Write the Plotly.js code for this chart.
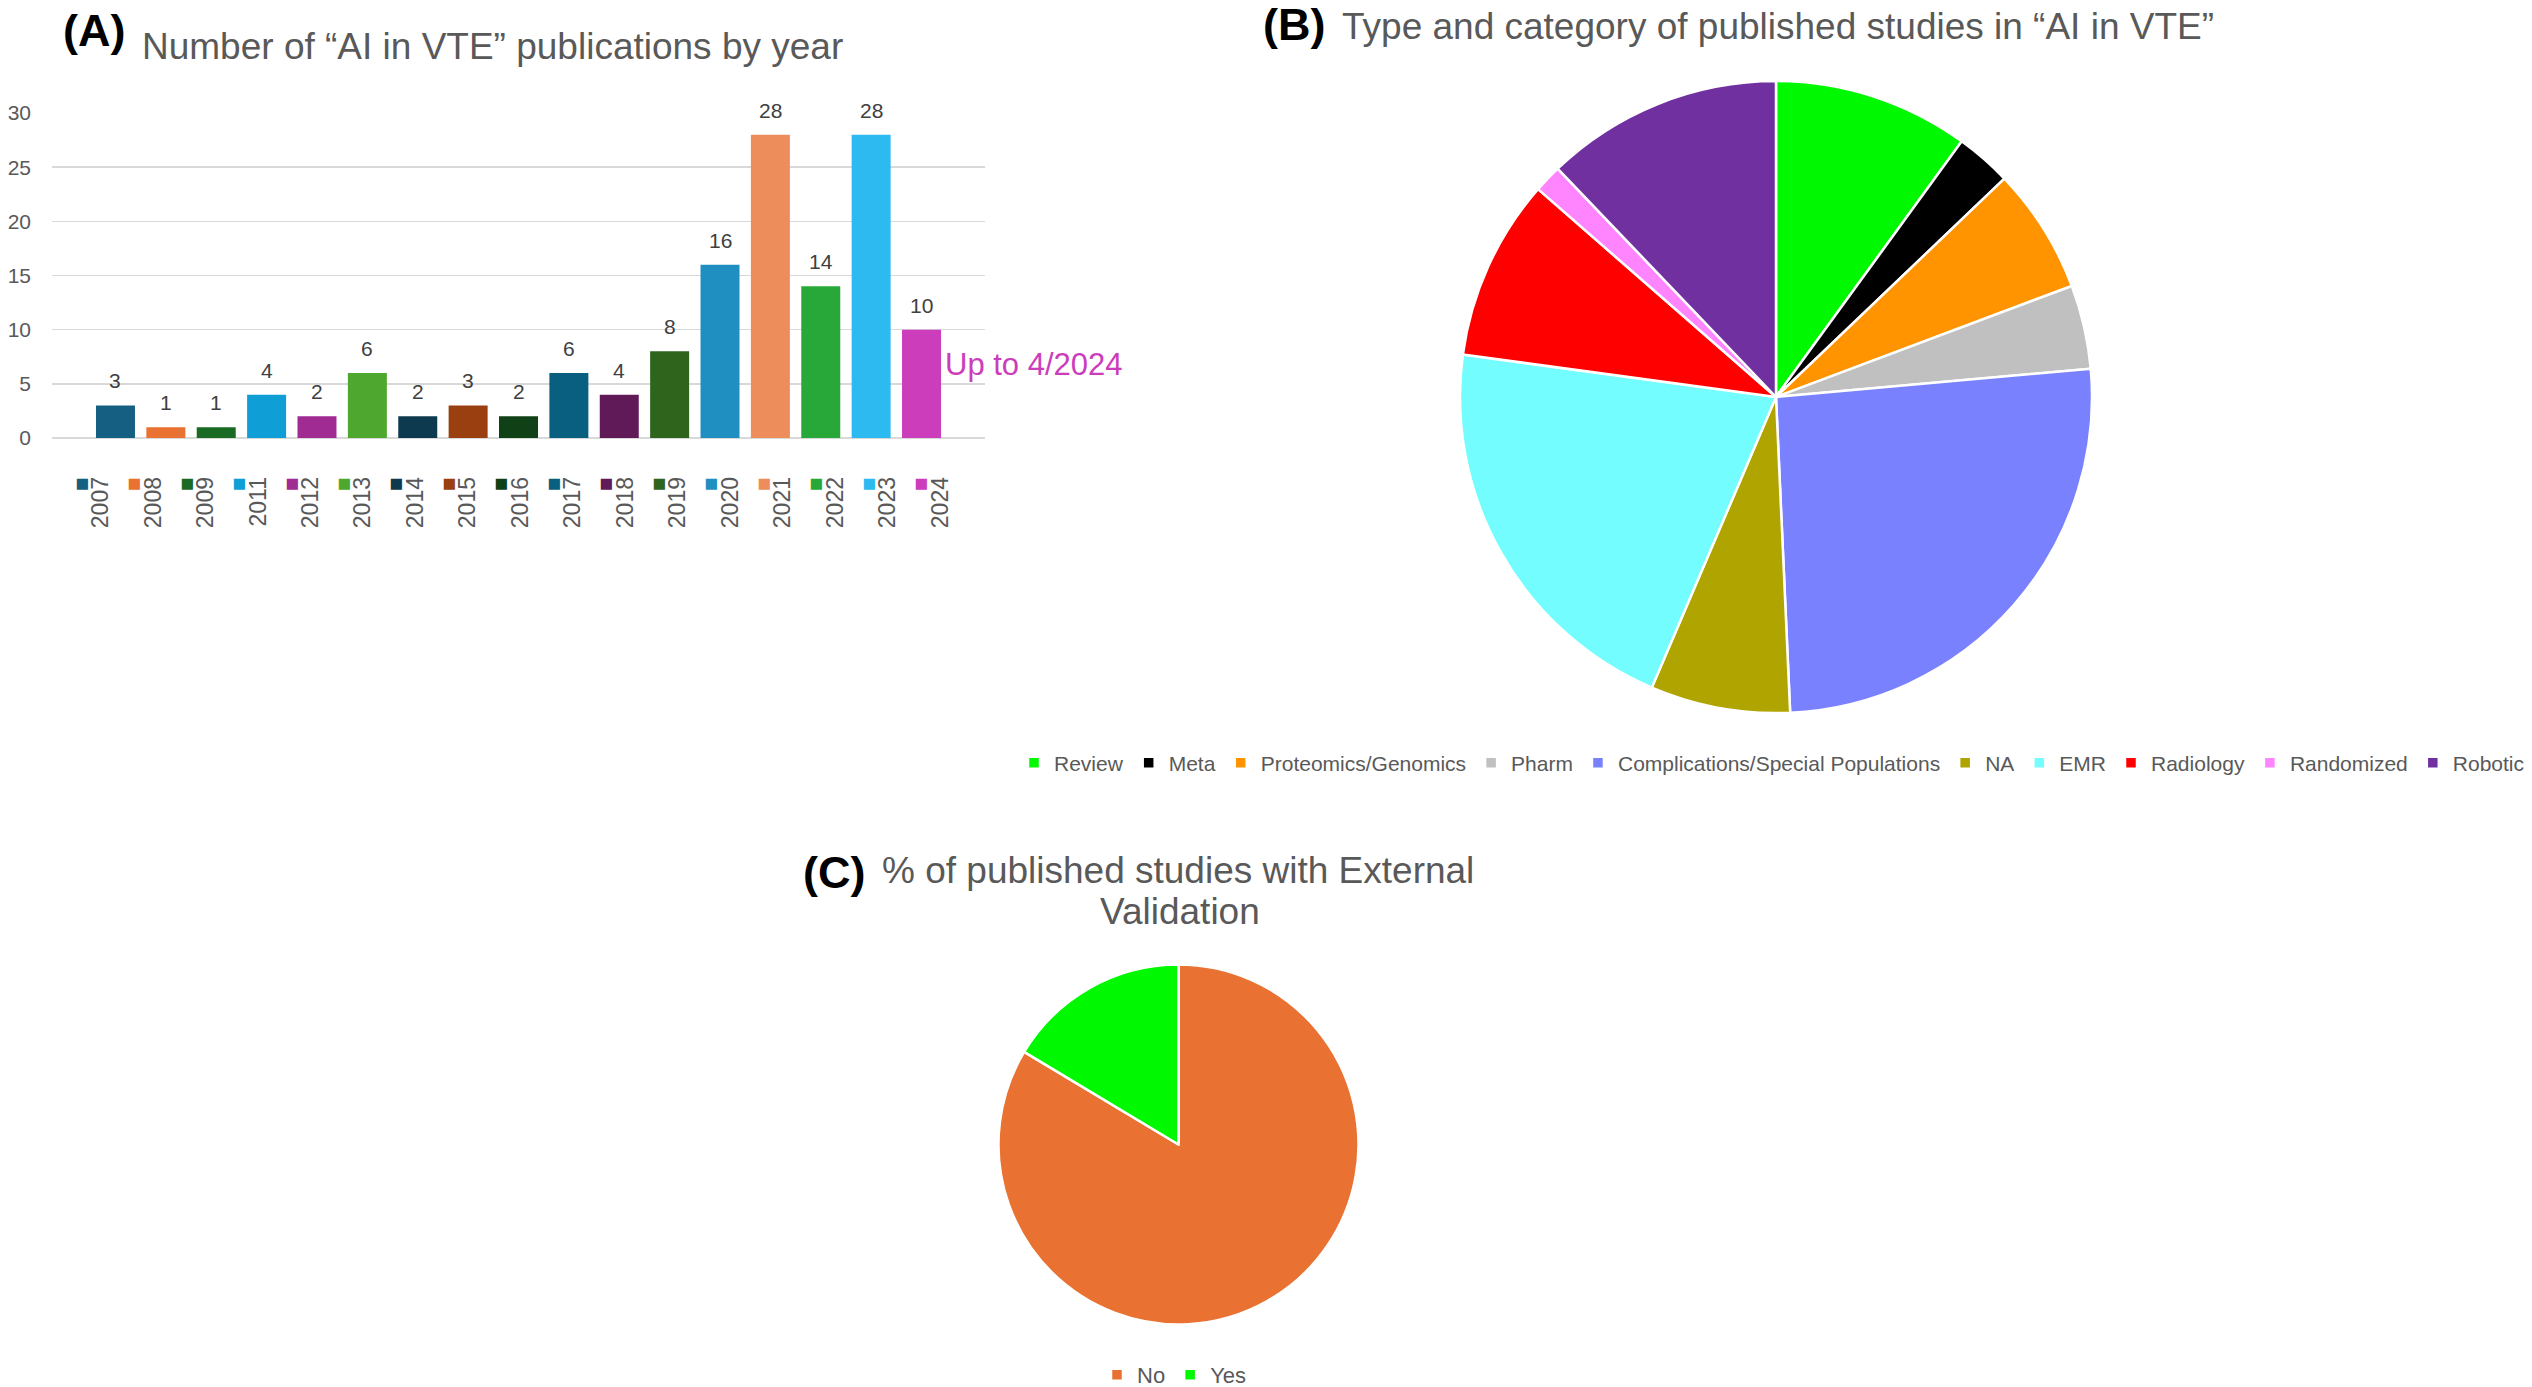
<!DOCTYPE html>
<html><head><meta charset="utf-8">
<script src="https://cdn.plot.ly/plotly-3.0.1.min.js"></script>
<style>html,body{margin:0;padding:0;background:#fff;overflow:hidden;} #chart{width:2532px;height:1387px;}</style>
</head><body><div id="chart"></div>
<script>
// ---------- data ----------
const years = ['2007','2008','2009','2011','2012','2013','2014','2015','2016','2017','2018','2019','2020','2021','2022','2023','2024'];
const pubCounts = [3,1,1,4,2,6,2,3,2,6,4,8,16,28,14,28,10];
const yearColors = ['#156082','#E97132','#196B24','#0F9ED5','#A02B93','#4EA72E',
                    '#0D3A4E','#993F10','#0F4016','#095F80','#601A58','#2F641C',
                    '#1F8EC0','#ED8D5B','#27A839','#2CBAF0','#CB3DBB'];
const yTicks = [0,5,10,15,20,25,30];

const categories = ['Review','Meta','Proteomics/Genomics','Pharm','Complications/Special Populations','NA','EMR','Radiology','Randomized','Robotic'];
const categoryCounts = [14,4,9,6,36,10,29,13,2,17];
const categoryColors = ['#00F900','#000000','#FF9300','#C0C0C0','#7A81FF','#B0A500','#73FDFF','#FF0000','#FF85FF','#7030A0'];

const validationLabels = ['No','Yes'];
const validationPct = [83.6,16.4];
const validationColors = ['#E97132','#00F900'];

// ---------- layout helpers ----------
const W = 2532, H = 1387;
const px = v => v / W;
const py = v => 1 - v / H;
const GRAY = '#595959';
const FONT = 'Liberation Sans, Arial, Helvetica, sans-serif';
const yearIdx = years.map((y, i) => i);

const barTrace = {
  type: 'bar', x: years, y: pubCounts, xaxis: 'x', yaxis: 'y',
  marker: {color: yearColors, line: {width: 0}},
  showlegend: false, hoverinfo: 'x+y'
};

// carrier trace so the legend-style year axis (x2) is drawn; draws nothing itself
const yearAxisCarrier = {
  type: 'scatter', mode: 'none', x: yearIdx, y: pubCounts, xaxis: 'x2', yaxis: 'y',
  showlegend: false, hoverinfo: 'skip'
};

const pieB = {
  type: 'pie', labels: categories, values: categoryCounts, sort: false,
  direction: 'clockwise', rotation: 0, textinfo: 'none',
  marker: {colors: categoryColors, line: {color: '#ffffff', width: 2.5}},
  domain: {x: [px(1460), px(2092)], y: [py(713), py(81)]},
  legend: 'legend', showlegend: true
};

const pieC = {
  type: 'pie', labels: validationLabels, values: validationPct, sort: false,
  direction: 'clockwise', rotation: 0, textinfo: 'none',
  marker: {colors: validationColors, line: {color: '#ffffff', width: 2.5}},
  domain: {x: [px(998.5), px(1358.5)], y: [py(1324.5), py(964.5)]},
  legend: 'legend2', showlegend: true
};

const legendTicks = years.map((y, i) =>
  `<span style="color:${yearColors[i]};font-size:23px">■</span><br><span style="font-size:23px">${y}</span>`);

const dataLabels = yearIdx.map(i => ({
  xref: 'x', yref: 'y', x: i, y: pubCounts[i], text: String(pubCounts[i]),
  showarrow: false, yanchor: 'bottom', yshift: 11,
  font: {size: 21, color: '#404040', family: FONT}
}));

const textAnn = (text, x, y, size, color, anchor, bold) => ({
  xref: 'paper', yref: 'paper', x: px(x), y: py(y), text: bold ? `<b>${text}</b>` : text,
  showarrow: false, xanchor: anchor, yanchor: 'middle',
  font: {size: size, color: color, family: FONT}
});

const annotations = dataLabels.concat([
  textAnn('(A)', 61, 30, 45, '#000000', 'left', true),
  textAnn('Number of “AI in VTE” publications by year', 140, 46.5, 37, GRAY, 'left', false),
  textAnn('(B)', 1261, 25, 45, '#000000', 'left', true),
  textAnn('Type and category of published studies in “AI in VTE”', 1777.5, 26, 37, GRAY, 'center', false),
  textAnn('(C)', 801, 872, 45, '#000000', 'left', true),
  textAnn('% of published studies with External', 1177.5, 870, 37, GRAY, 'center', false),
  textAnn('Validation', 1179.5, 911, 37, GRAY, 'center', false),
  textAnn('Up to 4/2024', 943, 365, 31, '#CB3DBB', 'left', false)
]);

const layout = {
  width: W, height: H,
  margin: {l: 0, r: 0, t: 0, b: 0, autoexpand: false},
  paper_bgcolor: '#ffffff', plot_bgcolor: '#ffffff',
  font: {family: FONT, color: GRAY},
  bargap: 0.226,
  xaxis: {
    domain: [px(52), px(985)], anchor: 'y', type: 'category',
    range: [-1.26, 17.26], showticklabels: false, ticks: '',
    showgrid: false, zeroline: false, showline: false, fixedrange: true
  },
  xaxis2: {
    domain: [px(52), px(985)], anchor: 'y', overlaying: 'x', side: 'bottom',
    type: 'linear', range: [-0.791, 16.99],
    tickmode: 'array', tickvals: yearIdx, ticktext: legendTicks,
    tickangle: -90, tickfont: {size: 15, color: GRAY, family: FONT},
    ticks: '', ticklabelstandoff: 35,
    showgrid: false, zeroline: false, showline: false, fixedrange: true
  },
  yaxis: {
    domain: [py(438), py(113)], anchor: 'x', range: [0, 30],
    tickmode: 'array', tickvals: yTicks,
    tickfont: {size: 21, color: GRAY, family: FONT},
    ticks: '', ticklabelstandoff: 20,
    showgrid: true, gridcolor: '#D9D9D9', gridwidth: 1.5,
    zeroline: true, zerolinecolor: '#D9D9D9', zerolinewidth: 1.5,
    showline: false, fixedrange: true
  },
  legend: {
    orientation: 'h', x: px(2530), xanchor: 'right', y: py(763), yanchor: 'middle',
    font: {size: 21, color: GRAY, family: FONT}, bgcolor: 'rgba(0,0,0,0)', traceorder: 'normal'
  },
  legend2: {
    orientation: 'h', x: px(1097), xanchor: 'left', y: py(1375), yanchor: 'middle',
    font: {size: 22, color: GRAY, family: FONT}, bgcolor: 'rgba(0,0,0,0)', traceorder: 'normal'
  },
  annotations: annotations
};

Plotly.newPlot('chart', [barTrace, yearAxisCarrier, pieB, pieC], layout, {displayModeBar: false, staticPlot: true});
</script>
</body></html>
